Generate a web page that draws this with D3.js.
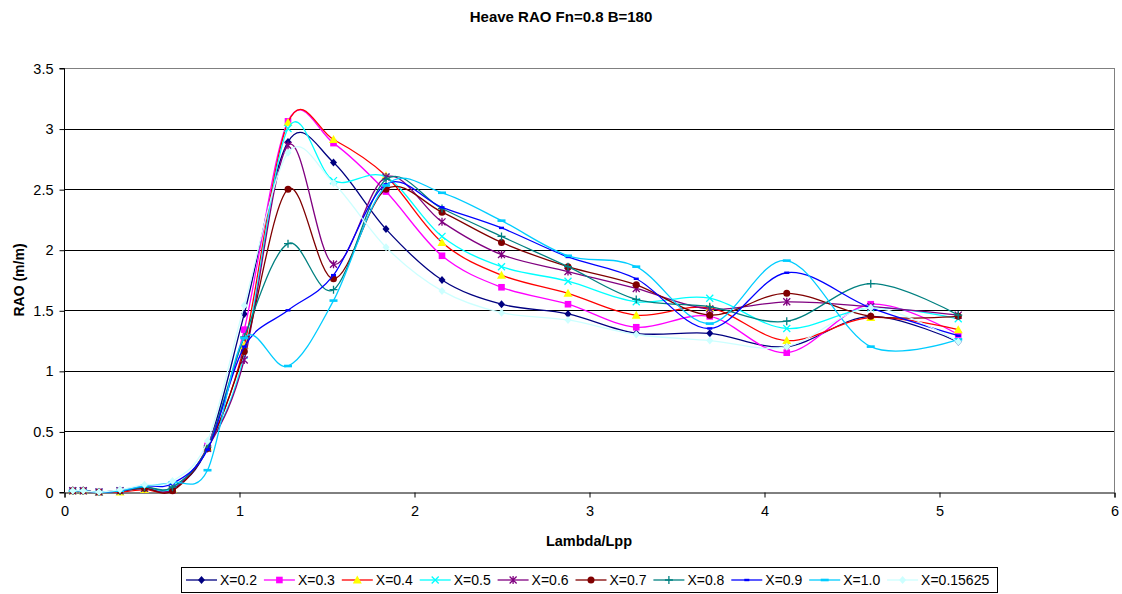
<!DOCTYPE html>
<html><head><meta charset="utf-8">
<script src="https://cdn.jsdelivr.net/npm/d3@7"></script>
<style>
html,body{margin:0;padding:0;background:#fff;}
svg{display:block;font-family:"Liberation Sans",Arial,sans-serif;}
</style></head>
<body><svg id="c" width="1122" height="594"></svg>
<script>
const lambda = [0.05,0.11,0.2,0.32,0.46,0.62,0.82,1.03,1.28,1.54,1.84,2.16,2.50,2.88,3.27,3.69,4.13,4.61,5.11];
const seriesNames = ["X=0.2","X=0.3","X=0.4","X=0.5","X=0.6","X=0.7","X=0.8","X=0.9","X=1.0","X=0.15625"];
const x02 = [0.01,0.01,0.0,0.01,0.04,0.03,0.37,1.47,2.89,2.72,2.17,1.75,1.55,1.47,1.31,1.31,1.20,1.45,1.24];
const x03 = [0.01,0.01,0.0,0.01,0.03,0.02,0.38,1.34,3.06,2.88,2.48,1.95,1.69,1.55,1.36,1.45,1.15,1.55,1.30];
const x04 = [0.01,0.01,0.0,0.0,0.02,0.02,0.37,1.21,3.05,2.91,2.61,2.06,1.79,1.64,1.46,1.52,1.25,1.44,1.34];
const x05 = [0.01,0.01,0.0,0.01,0.03,0.03,0.36,1.13,3.00,2.57,2.60,2.11,1.86,1.74,1.57,1.60,1.35,1.52,1.43];
const x06 = [0.01,0.01,0.0,0.01,0.03,0.02,0.36,1.09,2.86,1.88,2.60,2.23,1.96,1.82,1.68,1.51,1.57,1.53,1.46];
const x07 = [0.01,0.01,0.0,0.01,0.03,0.01,0.36,1.16,2.50,1.76,2.50,2.31,2.06,1.86,1.71,1.46,1.64,1.45,1.45];
const x08 = [0.01,0.01,0.0,0.01,0.04,0.04,0.37,1.28,2.05,1.67,2.58,2.34,2.11,1.86,1.59,1.53,1.41,1.72,1.46];
const x09 = [0.01,0.01,0.0,0.01,0.05,0.07,0.35,1.20,1.50,1.79,2.54,2.35,2.18,1.94,1.76,1.35,1.81,1.52,1.29];
const x10 = [0.01,0.01,0.0,0.01,0.05,0.08,0.18,1.27,1.04,1.58,2.53,2.47,2.24,1.95,1.86,1.39,1.91,1.20,1.26];
const x015625 = [0.01,0.01,0.0,0.02,0.06,0.09,0.42,1.54,2.80,2.55,2.02,1.66,1.48,1.42,1.30,1.25,1.20,1.52,1.24];
const yTicks = [0,0.5,1,1.5,2,2.5,3,3.5];
const xTicks = [0,1,2,3,4,5,6];

const values = [x02,x03,x04,x05,x06,x07,x08,x09,x10,x015625];
const lineColors = ["#000080","#FF00FF","#FF0000","#00FFFF","#800080","#800000","#008080","#0000FF","#00CCFF","#CCFFFF"];
const markColors = ["#000080","#FF00FF","#FFFF00","#00FFFF","#800080","#800000","#008080","#0000FF","#00CCFF","#CCFFFF"];
const markTypes = ["diamond","square","triangle","x","star","circle","plus","dash","longdash","diamond"];

const svg = d3.select("#c");
const L=64,R=1114,T=68,B=492;
const x = d3.scaleLinear().domain([0,6]).range([L,R]);
const y = d3.scaleLinear().domain([0,3.5]).range([B,T]);

svg.append("text").attr("x",561).attr("y",22).attr("text-anchor","middle")
  .attr("font-size",15).attr("font-weight","bold").text("Heave RAO Fn=0.8 B=180");

// gridlines
svg.append("g").selectAll("line").data(yTicks.filter(d=>d>0)).join("line")
  .attr("x1",L).attr("x2",R).attr("y1",d=>Math.round(y(d))+0.5).attr("y2",d=>Math.round(y(d))+0.5)
  .attr("stroke",d=>d===3.5?"#808080":"#000").attr("stroke-width",1);
svg.append("line").attr("x1",R+0.5).attr("x2",R+0.5).attr("y1",T).attr("y2",B).attr("stroke","#808080");

// axes
const yAxis = d3.axisLeft(y).tickValues(yTicks).tickSize(5).tickPadding(6).tickFormat(d3.format("~g"));
const gy = svg.append("g").attr("transform",`translate(${L+0.5},0.5)`).call(yAxis);
const xAxis = d3.axisBottom(x).tickValues(xTicks).tickSize(5).tickPadding(8).tickFormat(d3.format("d"));
const gx = svg.append("g").attr("transform",`translate(0.5,${B+0.5})`).call(xAxis);
[gy,gx].forEach(g=>{
  g.select(".domain").attr("stroke","#000");
  g.selectAll(".tick line").attr("stroke","#000");
  g.selectAll(".tick text").attr("font-size",14.5).attr("fill","#000").attr("font-family","Liberation Sans, Arial, sans-serif");
});
gy.select(".domain").attr("d",`M-5,${T}H0V${B}H-5`);

svg.append("text").attr("transform","translate(24,280) rotate(-90)").attr("text-anchor","middle")
  .attr("font-size",14).attr("font-weight","bold").text("RAO (m/m)");
svg.append("text").attr("x",589).attr("y",546).attr("text-anchor","middle")
  .attr("font-size",14.5).attr("font-weight","bold").text("Lambda/Lpp");

const line = d3.line().x(d=>x(d[0])).y(d=>y(d[1])).curve(d3.curveCardinal.tension(0));

function drawMarker(g, type, cx, cy, col){
  const s=3.5;
  if(type==="diamond") g.append("path").attr("d",`M${cx},${cy-s-0.5}L${cx+s},${cy}L${cx},${cy+s+0.5}L${cx-s},${cy}Z`).attr("fill",col);
  else if(type==="square") g.append("rect").attr("x",cx-3.3).attr("y",cy-3.3).attr("width",6.6).attr("height",6.6).attr("fill",col);
  else if(type==="triangle") g.append("path").attr("d",`M${cx},${cy-4.5}L${cx+4.5},${cy+3.5}L${cx-4.5},${cy+3.5}Z`).attr("fill",col);
  else if(type==="circle") g.append("circle").attr("cx",cx).attr("cy",cy).attr("r",3.5).attr("fill",col);
  else if(type==="x") g.append("path").attr("d",`M${cx-3.5},${cy-3.5}L${cx+3.5},${cy+3.5}M${cx-3.5},${cy+3.5}L${cx+3.5},${cy-3.5}`).attr("stroke",col).attr("stroke-width",1.3);
  else if(type==="star") g.append("path").attr("d",`M${cx-3.5},${cy-3.5}L${cx+3.5},${cy+3.5}M${cx-3.5},${cy+3.5}L${cx+3.5},${cy-3.5}M${cx},${cy-4}L${cx},${cy+4}`).attr("stroke",col).attr("stroke-width",1.3);
  else if(type==="plus") g.append("path").attr("d",`M${cx-4},${cy}L${cx+4},${cy}M${cx},${cy-4}L${cx},${cy+4}`).attr("stroke",col).attr("stroke-width",1.3);
  else if(type==="dash") g.append("rect").attr("x",cx-2.5).attr("y",cy-1.2).attr("width",5).attr("height",2.4).attr("fill",col);
  else if(type==="longdash") g.append("rect").attr("x",cx-4).attr("y",cy-1.3).attr("width",8).attr("height",2.6).attr("fill",col);
}

const plot = svg.append("g");
values.forEach((vals,i)=>{
  const pts = lambda.map((l,j)=>[l,vals[j]]);
  const g = plot.append("g");
  g.append("path").attr("d",line(pts)).attr("fill","none").attr("stroke",lineColors[i]).attr("stroke-width",1.3);
  pts.forEach(p=>drawMarker(g,markTypes[i],x(p[0]),y(p[1]),markColors[i]));
});

// legend
const lg = svg.append("g");
lg.append("rect").attr("x",181.5).attr("y",567.5).attr("width",816).attr("height",25).attr("fill","#fff").attr("stroke","#000");
seriesNames.forEach((n,i)=>{
  const x0 = 186 + i*77.9, cy = 580;
  lg.append("line").attr("x1",x0).attr("x2",x0+31).attr("y1",cy).attr("y2",cy).attr("stroke",lineColors[i]).attr("stroke-width",1.3);
  drawMarker(lg, markTypes[i], x0+15.5, cy, markColors[i]);
  lg.append("text").attr("x",x0+34).attr("y",cy+5).attr("font-size",14).text(n);
});
</script></body></html>
